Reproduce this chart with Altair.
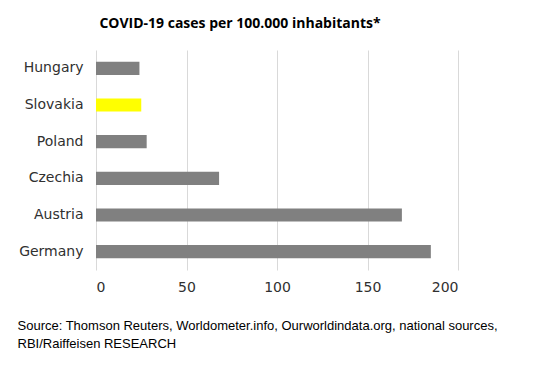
import altair as alt
import pandas as pd

countries = ["Hungary", "Slovakia", "Poland", "Czechia", "Austria", "Germany"]
cases = [24, 25, 28, 68, 169, 185]
colors = ["#808080", "#ffff00", "#808080", "#808080", "#808080", "#808080"]
x_ticks = [0, 50, 100, 150, 200]

df = pd.DataFrame({"country": countries, "cases": cases, "color": colors})

chart = alt.Chart(df).mark_bar().encode(
    y=alt.Y("country:N", sort=countries,
            scale=alt.Scale(paddingInner=0.64, paddingOuter=0.32),
            axis=alt.Axis(title=None, domain=False, ticks=False, labelPadding=13,
                          labelFont="DejaVu Sans", labelFontSize=14, labelColor="#303030")),
    x=alt.X("cases:Q", scale=alt.Scale(domain=[0, 200], nice=False),
            axis=alt.Axis(values=x_ticks, domain=False, ticks=False, grid=True,
                          gridColor="#d9d9d9", labelPadding=10,
                          labelFont="DejaVu Sans", labelFontSize=14, labelColor="#303030",
                          title=["Source: Thomson Reuters, Worldometer.info, Ourworldindata.org, national sources,",
                                 "RBI/Raiffeisen RESEARCH"],
                          titleFont="Liberation Sans", titleFontSize=13, titleFontWeight="normal",
                          titleColor="#000000", titleAnchor="start", titleAlign="left",
                          titleBaseline="top", titleX=-79, titleY=49, titleLineHeight=18)),
    color=alt.Color("color:N", scale=None),
).properties(
    width=362, height=220,
    autosize=alt.AutoSizeParams(type="none"),
    padding={"left": 88, "top": 42, "right": 71, "bottom": 97},
    title=alt.TitleParams("COVID-19 cases per 100.000 inhabitants*", anchor="middle",
                          dx=-37, offset=19, font="Open Sans", fontSize=14,
                          fontWeight="bold", color="#000000"),
).configure_view(stroke=None)

chart.save("out.html", embed_options={"renderer": "svg", "actions": False})
